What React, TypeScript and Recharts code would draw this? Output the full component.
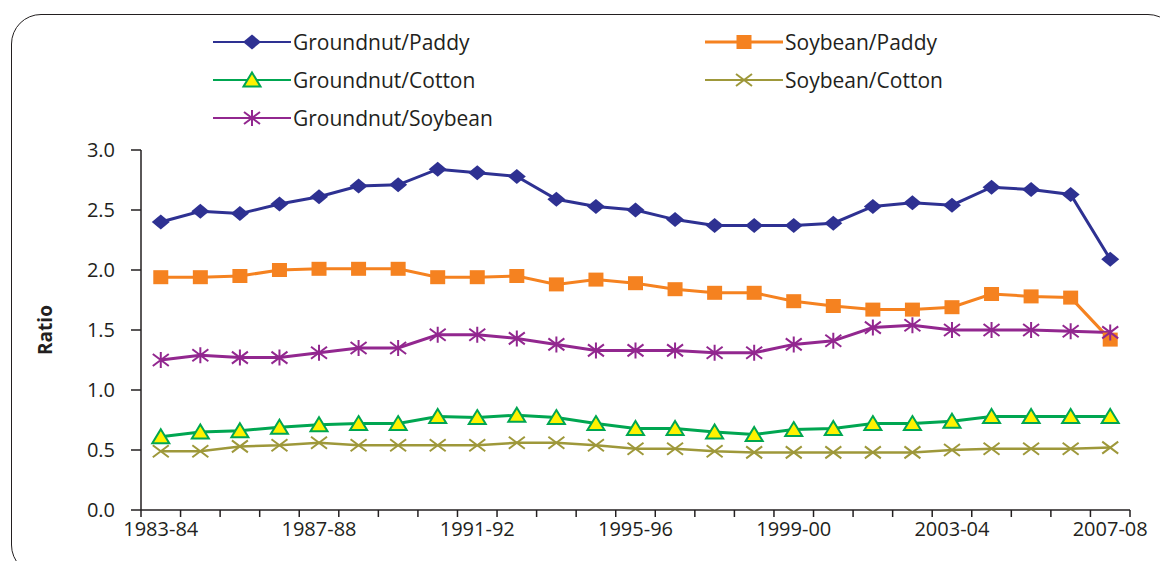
import React from "react";
import { LineChart, Line, XAxis, YAxis } from "recharts";

const categories = [
  "1983-84", "1984-85", "1985-86", "1986-87", "1987-88", "1988-89", "1989-90",
  "1990-91", "1991-92", "1992-93", "1993-94", "1994-95", "1995-96", "1996-97",
  "1997-98", "1998-99", "1999-00", "2000-01", "2001-02", "2002-03", "2003-04",
  "2004-05", "2005-06", "2006-07", "2007-08",
];

const groundnutPaddy = [
  2.40, 2.49, 2.47, 2.55, 2.61, 2.70, 2.71, 2.84, 2.81, 2.78, 2.59, 2.53, 2.50,
  2.42, 2.37, 2.37, 2.37, 2.39, 2.53, 2.56, 2.54, 2.69, 2.67, 2.63, 2.09,
];
const soybeanPaddy = [
  1.94, 1.94, 1.95, 2.00, 2.01, 2.01, 2.01, 1.94, 1.94, 1.95, 1.88, 1.92, 1.89,
  1.84, 1.81, 1.81, 1.74, 1.70, 1.67, 1.67, 1.69, 1.80, 1.78, 1.77, 1.42,
];
const groundnutCotton = [
  0.61, 0.65, 0.66, 0.69, 0.71, 0.72, 0.72, 0.78, 0.77, 0.79, 0.77, 0.72, 0.68,
  0.68, 0.65, 0.63, 0.67, 0.68, 0.72, 0.72, 0.74, 0.78, 0.78, 0.78, 0.78,
];
const soybeanCotton = [
  0.49, 0.49, 0.53, 0.54, 0.56, 0.54, 0.54, 0.54, 0.54, 0.56, 0.56, 0.54, 0.51,
  0.51, 0.49, 0.48, 0.48, 0.48, 0.48, 0.48, 0.50, 0.51, 0.51, 0.51, 0.52,
];
const groundnutSoybean = [
  1.25, 1.29, 1.27, 1.27, 1.31, 1.35, 1.35, 1.46, 1.46, 1.43, 1.38, 1.33, 1.33,
  1.33, 1.31, 1.31, 1.38, 1.41, 1.52, 1.54, 1.50, 1.50, 1.50, 1.49, 1.48,
];

const yTicks = [0, 0.5, 1, 1.5, 2, 2.5, 3];

const data = categories.map((year, i) => ({
  year,
  gp: groundnutPaddy[i],
  sp: soybeanPaddy[i],
  gc: groundnutCotton[i],
  sc: soybeanCotton[i],
  gs: groundnutSoybean[i],
}));

const INK = "#231F20";
const FONT = '"Open Sans", sans-serif';

// plot area: x 141..1130, y 150..510
const PLOT_LEFT = 141;
const PLOT_RIGHT = 1130;
const BAND = (PLOT_RIGHT - PLOT_LEFT) / categories.length;

type Shape = "diamond" | "square" | "triangle" | "cross" | "star";

function marker(shape: Shape, cx: number, cy: number, color: string, key?: string | number) {
  switch (shape) {
    case "diamond":
      return (
        <path key={key} d={`M${cx},${cy - 7.5}L${cx + 9},${cy}L${cx},${cy + 7.5}L${cx - 9},${cy}Z`} fill={color} />
      );
    case "square":
      return <rect key={key} x={cx - 7.5} y={cy - 7} width={15} height={14} fill={color} />;
    case "triangle":
      return (
        <path
          key={key}
          d={`M${cx},${cy - 7.5}L${cx + 8.5},${cy + 6.5}L${cx - 8.5},${cy + 6.5}Z`}
          fill="#FFF200"
          stroke={color}
          strokeWidth={2}
        />
      );
    case "cross":
      return (
        <path
          key={key}
          d={`M${cx - 8},${cy - 6}L${cx + 8},${cy + 6}M${cx - 8},${cy + 6}L${cx + 8},${cy - 6}`}
          stroke={color}
          strokeWidth={2}
          fill="none"
        />
      );
    default:
      return (
        <path
          key={key}
          d={`M${cx - 8},${cy - 6}L${cx + 8},${cy + 6}M${cx - 8},${cy + 6}L${cx + 8},${cy - 6}M${cx},${cy - 8}L${cx},${cy + 8}`}
          stroke={color}
          strokeWidth={2}
          fill="none"
        />
      );
  }
}

const series = [
  { key: "gp", name: "Groundnut/Paddy", color: "#2E3192", shape: "diamond" as Shape, width: 3 },
  { key: "sp", name: "Soybean/Paddy", color: "#F58220", shape: "square" as Shape, width: 3 },
  { key: "gc", name: "Groundnut/Cotton", color: "#00A651", shape: "triangle" as Shape, width: 3 },
  { key: "sc", name: "Soybean/Cotton", color: "#9E983A", shape: "cross" as Shape, width: 2.5 },
  { key: "gs", name: "Groundnut/Soybean", color: "#92278F", shape: "star" as Shape, width: 3 },
];

const legendPos = [
  { left: 213, top: 42 },
  { left: 705, top: 42 },
  { left: 213, top: 80 },
  { left: 705, top: 80 },
  { left: 213, top: 118 },
];

const XTick = (props: any) => {
  const { x, y, payload } = props;
  const i = payload.index;
  const half = BAND / 2;
  return (
    <g>
      <line x1={x - half} x2={x - half} y1={y} y2={y + 7} stroke={INK} strokeWidth={1.5} />
      {i === categories.length - 1 && (
        <line x1={x + half} x2={x + half} y1={y} y2={y + 7} stroke={INK} strokeWidth={1.5} />
      )}
      {i % 4 === 0 && (
        <text x={x} y={y + 26} textAnchor="middle" fill={INK} fontSize={20} fontFamily={FONT}>
          {payload.value}
        </text>
      )}
    </g>
  );
};

export default function App() {
  return (
    <div
      style={{
        position: "relative",
        width: 1168,
        height: 569,
        margin: -8,
        overflow: "hidden",
        background: "#fff",
        fontFamily: FONT,
      }}
    >
      <div
        style={{
          position: "absolute",
          left: 11,
          top: 14,
          width: 1167,
          height: 561,
          border: `1.5px solid ${INK}`,
          borderRadius: 30,
          boxSizing: "border-box",
        }}
      />

      <LineChart
        width={1168}
        height={569}
        data={data}
        margin={{ top: 150, right: 1168 - PLOT_RIGHT, bottom: 29, left: PLOT_LEFT - 60 }}
        style={{ position: "absolute", left: 0, top: 0 }}
      >
        <XAxis
          dataKey="year"
          interval={0}
          padding={{ left: BAND / 2, right: BAND / 2 }}
          height={30}
          tickSize={0}
          tickMargin={0}
          tickLine={false}
          axisLine={{ stroke: INK, strokeWidth: 1.5 }}
          tick={<XTick />}
        />
        <YAxis
          width={60}
          domain={[0, 3]}
          ticks={yTicks}
          tickFormatter={(v: number) => v.toFixed(1)}
          tickSize={10}
          tickMargin={16}
          tickLine={{ stroke: INK, strokeWidth: 1.5 }}
          axisLine={{ stroke: INK, strokeWidth: 1.5 }}
          tick={{ fill: INK, fontSize: 20, fontFamily: FONT }}
        />
        {series.map((s) => (
          <Line
            key={s.key}
            dataKey={s.key}
            name={s.name}
            stroke={s.color}
            strokeWidth={s.width}
            isAnimationActive={false}
            activeDot={false}
            dot={(p: any) => marker(s.shape, p.cx, p.cy, s.color, `${s.key}-${p.index}`)}
          />
        ))}
      </LineChart>

      <div
        style={{
          position: "absolute",
          left: 45,
          top: 330,
          transform: "translate(-50%, -50%) rotate(-90deg)",
          fontWeight: 700,
          fontSize: 19,
          color: INK,
        }}
      >
        Ratio
      </div>

      {series.map((s, i) => (
        <div
          key={s.key}
          style={{
            position: "absolute",
            left: legendPos[i].left,
            top: legendPos[i].top - 14,
            height: 28,
            display: "flex",
            alignItems: "center",
            whiteSpace: "nowrap",
          }}
        >
          <svg width={78} height={28}>
            <line x1={0} x2={78} y1={14} y2={14} stroke={s.color} strokeWidth={s.key === "sp" ? 3 : 1.8} />
            {marker(s.shape, 39, 14, s.color)}
          </svg>
          <span style={{ marginLeft: 2, fontSize: 21, color: INK }}>{s.name}</span>
        </div>
      ))}
    </div>
  );
}
